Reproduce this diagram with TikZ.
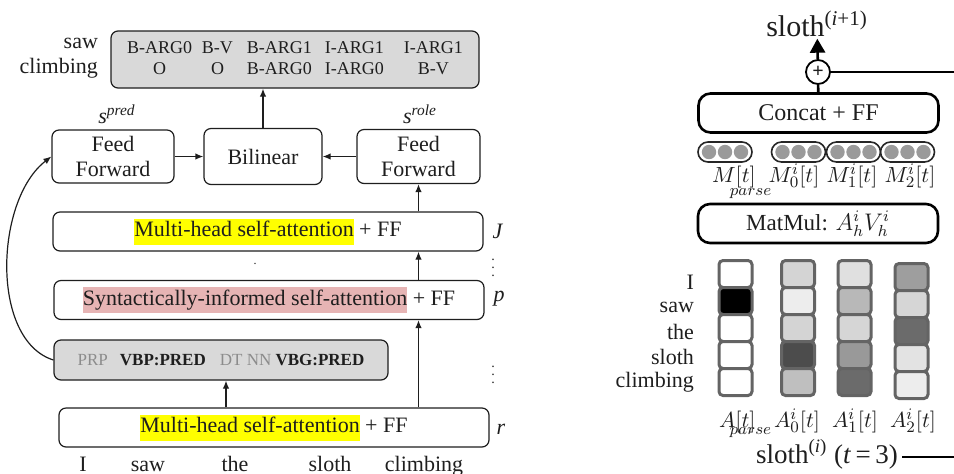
\documentclass[tikz,border=0pt]{standalone}
\usepackage{fontspec}
\setmainfont{Liberation Serif}
\usetikzlibrary{positioning, arrows.meta, calc}
\usepackage{amsmath}
\usepackage{xcolor}
\definecolor{hlyellow}{HTML}{FFFF00}
\definecolor{hlpink}{HTML}{E6B4B4}
\definecolor{boxgray}{HTML}{D9D9D9}
\definecolor{taggray}{HTML}{8C8C8C}
\definecolor{inkdark}{HTML}{1E1E1E}
\definecolor{cellrim}{HTML}{646464}
\definecolor{dotgray}{HTML}{9A9A9A}
\newcommand{\hly}[1]{{\setlength{\fboxsep}{0pt}\colorbox{hlyellow}{\strut #1}}}
\newcommand{\hlp}[1]{{\setlength{\fboxsep}{0pt}\colorbox{hlpink}{\strut #1}}}

\begin{document}
\begin{tikzpicture}[x=0.5pt, y=-0.5pt, font=\fontsize{11}{13}\selectfont, text=inkdark,
    box/.style={draw=inkdark, line width=0.6pt, rounded corners=3.5pt, fill=white,
      align=center, inner sep=0pt},
    layer/.style={box, minimum width=215pt, minimum height=19.5pt},
    arr/.style={line width=0.6pt, draw=inkdark, -{Latex[length=4pt,width=3.2pt]}},
    rbox/.style={draw=black, line width=1.3pt, rounded corners=6pt, fill=white,
      minimum width=120pt, minimum height=19.5pt, inner sep=0pt},
    cell/.style={draw=cellrim, line width=1.5pt, rounded corners=2pt,
      minimum width=16.5pt, minimum height=13.5pt, inner sep=0pt},
    memo/.style={draw=black!85, line width=0.8pt, rounded corners=5pt,
      minimum width=27pt, minimum height=10pt, inner sep=0pt}]
  \useasboundingbox (0,0) rectangle (954,473);

  % left: parser + labeler
  \node[box, fill=boxgray, minimum width=184pt, minimum height=28.5pt] (tags) at (295,59.5)
    {\fontsize{9}{10.5}\selectfont
     \begin{tabular}{@{}c@{\hspace{5pt}}c@{\hspace{7pt}}c@{\hspace{6.5pt}}c@{\hspace{10pt}}c@{}}
       B-ARG0 & B-V & B-ARG1 & I-ARG1 & I-ARG1\\
       O & O & B-ARG0 & I-ARG0 & B-V
     \end{tabular}};
  \node[anchor=east, align=right, font=\fontsize{11}{12.5}\selectfont] (predwords) at (105,58)
    {saw\\climbing};

  \node[box, minimum width=61pt, minimum height=26.5pt, font=\fontsize{11}{12.5}\selectfont]
    (ffpred) at (113,156.5) {Feed\\Forward};
  \node[box, minimum width=59pt, minimum height=28pt] (bilin) at (263,156.5) {Bilinear};
  \node[box, minimum width=61.5pt, minimum height=27pt, font=\fontsize{11}{12.5}\selectfont]
    (ffrole) at (418.5,156.5) {Feed\\Forward};
  \node (spred) at (117,114) {\textit{s}\textsuperscript{\textit{pred}}};
  \node (srole) at (420,114) {\textit{s}\textsuperscript{\textit{role}}};

  \node[layer] (layJ) at (268,231.5) {\hly{Multi-head self-attention} + FF};
  \node[layer] (layp) at (269,300) {\hlp{Syntactically-informed self-attention} + FF};
  \node[box, fill=boxgray, minimum width=167pt, minimum height=20pt] (parse) at (221,360)
    {\fontsize{8.5}{10}\selectfont\textcolor{taggray}{PRP}\hspace{6pt}\textbf{VBP:PRED}\hspace{7pt}%
     \textcolor{taggray}{DT NN} \textbf{VBG:PRED}};
  \node[layer] (layr) at (274,427.5) {\hly{Multi-head self-attention} + FF};

  \node (lblJ) at (498,231) {\textit{J}};
  \node (lblp) at (499,299) {\textit{p}};
  \node (lblr) at (501,429) {\textit{r}};
  \node[font=\fontsize{7}{7}\selectfont] (dotsJ) at (493,262) {$\vdots$};
  \node[font=\fontsize{7}{7}\selectfont] (dotsr) at (493,369) {$\vdots$};
  \node[font=\fontsize{6}{6}\selectfont] (stray) at (255,264) {.};

  \foreach \w/\x [count=\k] in {I/83, saw/148, the/235, sloth/330, climbing/424}
    \node[anchor=base] (inw\k) at (\x,471.5) {\w};

  \draw[arr] (bilin.north) -- (bilin.north |- tags.south);
  \draw[arr] (ffpred) -- (bilin);
  \draw[arr] (ffrole) -- (bilin);
  \draw[arr] (layJ.north -| ffrole) -- (ffrole.south);
  \draw[arr] (layp.north -| ffrole) -- (layJ.south -| ffrole);
  \draw[arr] (layr.north -| ffrole) -- (layp.south -| ffrole);
  \draw[arr] ([xshift=2.5pt]parse.south |- layr.north) -- ([xshift=2.5pt]parse.south);
  \draw[arr] (parse.west) .. controls (-10,340) and (-5,200) .. (ffpred.west);

  % right: syntactically-informed attention head
  \node[anchor=base, inner sep=1pt, font=\fontsize{15}{17}\selectfont] (slothout) at (817,36)
    {sloth\textsuperscript{(\textit{i}+1)}};
  \node[draw=black, circle, line width=0.9pt, minimum size=12pt, inner sep=0pt, fill=white]
    (plus) at (818,72) {\fontsize{10}{10}\selectfont\textbf{+}};
  \node[rbox, font=\fontsize{12}{14}\selectfont] (concat) at (818.5,113) {Concat + FF};
  \coordinate (skipout) at (954,72);
  \draw[line width=1.3pt] (concat) -- (plus);
  \draw[line width=1.3pt] (plus) -- (skipout);
  \draw[line width=1.3pt, -{Triangle[length=7pt,width=7.5pt]}] (plus) -- (slothout);

  \foreach \cx [count=\k] in {725, 798.5, 853.5, 907.5} {
    \node[memo] (mem\k) at (\cx,152) {};
    \foreach \d in {-1,0,1}
      \fill[dotgray] (\cx+\d*16,152) circle (3.6pt);
  }
  \node[anchor=base west] (mparse) at (705,182)
    {$M[t]_{\kern-13pt\raisebox{-5pt}{$\scriptstyle parse$}}$};
  \node[anchor=base] (mzero) at (794,182) {$M_0^i[t]$};
  \node[anchor=base] (mone) at (852,182) {$M_1^i[t]$};
  \node[anchor=base] (mtwo) at (910,182) {$M_2^i[t]$};

  \node[rbox, font=\fontsize{11.5}{13}\selectfont] (matmul) at (818,223.5) {MatMul: $A_h^iV_h^i$};

  \foreach \cx/\dy/\ga/\gb/\gc/\gd/\ge [count=\k] in
      {735.5/0/100/0/100/100/100, 798/0/83/93/83/30/75,
       854.5/0/88/72/84/60/42, 911.5/3/62/84/42/89/93} {
    \foreach \g [count=\j] in {\ga,\gb,\gc,\gd,\ge}
      \node[cell, fill=white!\g!black] (att\k-\j) at (\cx,247+\dy+27*\j) {};
  }
  \foreach \w/\y [count=\k] in {I/282, saw/307, the/332, sloth/357, climbing/382}
    \node[anchor=east] (rw\k) at (701,\y) {\w};

  \node[anchor=base west] (aparse) at (712,427)
    {$A[t]_{\kern-13pt\raisebox{-2pt}{$\scriptstyle parse$}}$};
  \node[anchor=base] (azero) at (797,427) {$A_0^i[t]$};
  \node[anchor=base] (aone) at (855,427) {$A_1^i[t]$};
  \node[anchor=base] (atwo) at (913,427) {$A_2^i[t]$};

  \node[anchor=base, inner sep=2pt, font=\fontsize{13.5}{15}\selectfont] (slothin) at (827,463)
    {sloth\textsuperscript{(\textit{i})} (\textit{t}\,=\,3)};
  \coordinate (skipin) at (954,457);
  \draw[line width=1.3pt] (slothin.east |- skipin) -- (skipin);
\end{tikzpicture}
\end{document}
